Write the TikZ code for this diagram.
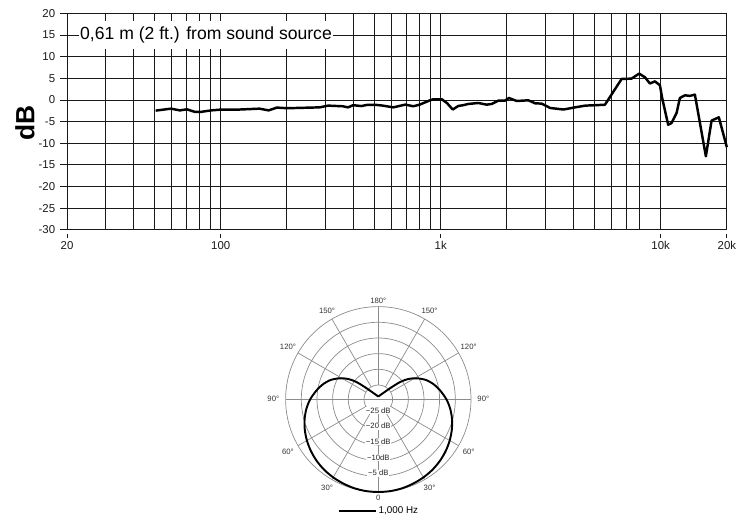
\documentclass[tikz,border=0pt]{standalone}
\usepackage{fontspec}
\setmainfont{Liberation Sans}

\begin{document}
\begin{tikzpicture}[x=0.02cm,y=0.02cm,
  gridline/.style={line width=0.55pt,black!90},
  respcurve/.style={line width=1.4pt,line join=round},
  ring/.style={line width=0.4pt,black!45},
  polarcurve/.style={line width=1.1pt,line join=round},
  ticklabel/.style={font=\fontsize{6.5}{7}\selectfont,inner xsep=2.5pt,inner ysep=1.5pt},
  deglabel/.style={font=\fontsize{4.4}{5}\selectfont,text=black!80,inner sep=0pt},
  dblabel/.style={font=\fontsize{4.4}{5}\selectfont,text=black!85,fill=white,inner sep=0.4pt}]

\useasboundingbox (0,0) rectangle (750,530);

% frequency response (frequencies in kHz)
\begin{scope}[shift={(67,430)},x=4.4cm,y=0.08667cm]
% vertical grid
\foreach \f in {0.03,0.04,0.05,0.06,0.07,0.08,0.09,0.1,0.2,0.3,0.4,0.5,0.6,0.7,0.8,0.9,1,2,3,4,5,6,7,8,10}
  \draw[gridline] ({log10(\f*50)},-30) -- ({log10(\f*50)},20);
% horizontal grid
\foreach \d in {-25,-20,...,15}
  \draw[gridline] (0,\d) -- (3,\d);
\draw[gridline] (0,-30) rectangle (3,20);

% dB ticks
\foreach \d in {-30,-25,...,20}
  \draw[gridline] (0,\d) -- ++(-0.14cm,0) node[ticklabel,left] (yl\d) {\d};
% frequency ticks
\foreach \f/\t in {0.02/20,0.1/100,1/1k,10/10k,20/20k}
  \draw[gridline] ({log10(\f*50)},-30) ++(0,-0.08cm) -- ++(0,-0.09cm) node[ticklabel,below] (xl\t) {\t};

% response
\draw[respcurve] ({log10(0.0506*50)},-2.45) \foreach \f/\v in {0.0594/-2.0,0.0652/-2.4,0.0702/-2.15,0.0763/-2.75,0.0811/-2.75,0.0905/-2.4,0.101/-2.2,0.122/-2.2,0.150/-2.0,0.165/-2.4,0.180/-1.75,0.200/-1.9,0.282/-1.7,0.308/-1.3,0.359/-1.45,0.379/-1.7,0.400/-1.2,0.436/-1.4,0.461/-1.15,0.502/-1.1,0.546/-1.3,0.609/-1.7,0.690/-1.07,0.751/-1.45,0.803/-1.07,0.894/-0.07,0.925/0.16,1.013/0.16,1.067/-0.7,1.135/-2.2,1.202/-1.38,1.266/-1.2,1.334/-0.92,1.481/-0.69,1.617/-1.07,1.705/-0.92,1.828/-0.15,1.959/-0.15,2.043/0.46,2.216/-0.23,2.502/-0.07,2.686/-0.76,2.880/-0.84,3.144/-1.84,3.616/-2.2,4.090/-1.69,4.546/-1.3,5.580/-1.1,6.644/4.85,7.374/4.93,7.988/6.1,8.500/5.2,8.934/3.8,9.416/4.3,9.924/3.4,10.16/0.46,10.816/-5.7,11.212/-5.3,11.814/-3.0,12.23/0.46,12.89/1.08,13.58/0.95,14.31/1.24,16.056/-13,17.04/-4.75,18.39/-4.0,20/-10.9} { -- ({log10(\f*50)},\v) };

\node[fill=white,inner xsep=0.9pt,minimum height=0.58cm,font=\fontsize{10}{12}\selectfont] (src) at (0.632,15) {0,61 m (2 ft.) from sound source};
\end{scope}

% axis title
\node[rotate=90,font=\fontsize{15}{18}\selectfont\bfseries] (dbt) at (25,407) {dB};

% polar pattern
\begin{scope}[shift={(378.3,130.7)}]
\foreach \r in {14.3,30,45.7,61.3,77,92.7}
  \draw[ring] (0,0) circle (\r);
\foreach \a in {-90,-60,...,240}
  \draw[ring] (\a:14.3) -- (\a:92.7);
\draw[ring] (180:92.7) -- (0:92.7);

\draw[polarcurve] plot[smooth] coordinates {(0,2.8) (-11.7,11) (-21.7,17.2) (-30,20.3) (-38.5,21) (-47.7,19.3) (-55.5,14.9) (-61.7,9) (-68.1,0) (-71.9,-9.5) (-73.7,-19.7) (-73.5,-30.5) (-71.4,-41.2) (-67.4,-51.7) (-61.6,-61.6) (-54.1,-70.5) (-45.1,-78.1) (-34.9,-84.3) (-23.8,-89) (-12.1,-91.8) (0,-92.7) (12.1,-91.8) (23.8,-89) (34.9,-84.3) (45.1,-78.1) (54.1,-70.5) (61.6,-61.6) (67.4,-51.7) (71.4,-41.2) (73.5,-30.5) (73.7,-19.7) (71.9,-9.5) (68.1,0) (61.7,9) (55.5,14.9) (47.7,19.3) (38.5,21) (30,20.3) (21.7,17.2) (11.7,11) (0,2.8)};

% angle labels
\foreach \a in {30,60,...,150} {
  \node[deglabel] (dl\a) at ({-90-\a}:{100+5*abs(sin(\a))}) {\a°};
  \node[deglabel] (dr\a) at ({-90+\a}:{100+5*abs(sin(\a))}) {\a°};
}
\node[deglabel] (d180) at (90:98.6) {180°};
\node[deglabel] (d0) at (-90:98.6) {0};

% level labels
\foreach \r/\t [count=\i] in {14.3/−25 dB,30/−20 dB,45.7/−15 dB,61.3/−10dB,77/−5 dB}
  \node[dblabel] (lv\i) at (0,{3.2-\r}) {\t};

% legend
\node[font=\fontsize{5.6}{6}\selectfont,anchor=west,inner sep=0pt] (leg) at (0,-111.4) {1,000 Hz};
\draw[line width=1.1pt] (leg.west) ++(-2.3,0) -- ++(-36.7,0);
\end{scope}

\end{tikzpicture}
\end{document}
